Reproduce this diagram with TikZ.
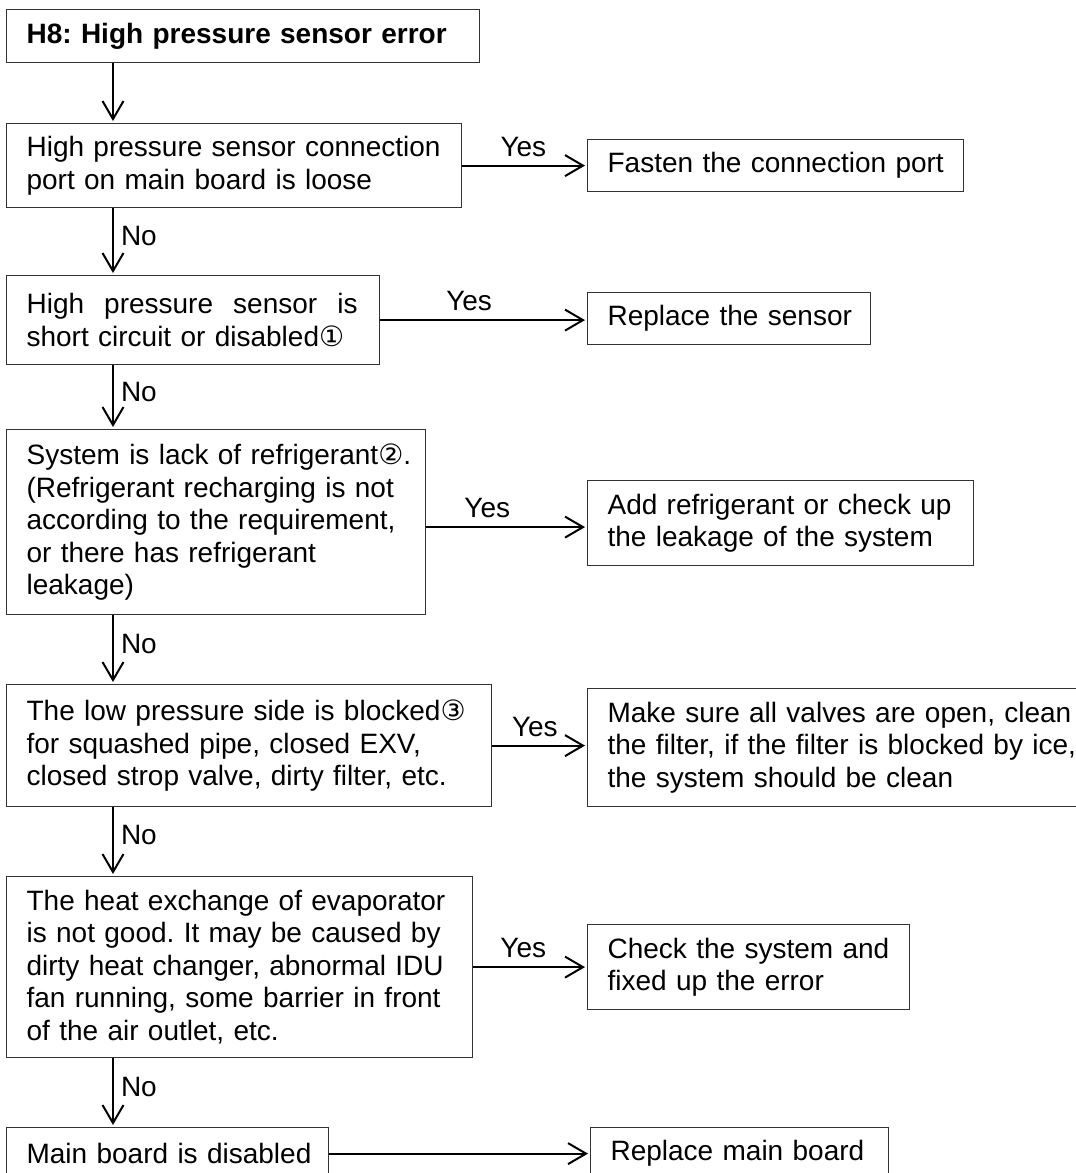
\documentclass[tikz,border=0pt]{standalone}
\usepackage{fontspec}
\setmainfont{Liberation Sans}
\newfontfamily\circfont{DejaVu Sans}
\usetikzlibrary{arrows.meta}
\newcommand\circnum[1]{{\circfont #1}}
% one unbreakable line of box text
\newcommand\rowtext[1]{\mbox{#1}}

\begin{document}
\begin{tikzpicture}[x=1pt, y=-1pt,
  txt/.style={font=\fontsize{28}{32.5}\selectfont\frenchspacing},
  box/.style={draw=black!80, line width=1.2pt, anchor=north west,
              inner xsep=20pt, inner ysep=0pt, align=left, txt},
  arr/.style={line width=2pt, -{Straight Barb[length=18pt, width=21pt]}, shorten >=2pt},
  nolab/.style={anchor=west, inner sep=0pt, xshift=7pt, txt},
  yeslab/.style={anchor=south, inner sep=0pt, yshift=8pt, txt}]

\useasboundingbox (0,0) rectangle (1076,1173);
\clip (0,0) rectangle (1076,1173);
\fill[white] (0,0) rectangle (1076,1173);

% question column
\node[box, minimum width=473pt, text width=433pt, minimum height=53pt] (b1) at (6,9)
  {\rowtext{\textbf{H8: High pressure sensor error}}};
\node[box, minimum width=455pt, text width=415pt, minimum height=84pt] (b2) at (6,123)
  {\rowtext{High pressure sensor connection}\\\rowtext{port on main board is loose}};
\node[box, minimum width=373pt, text width=333pt, minimum height=89pt] (b3) at (6,275)
  {\hbox to 331pt{High\hfill pressure\hfill sensor\hfill is}\\\rowtext{short circuit or disabled\circnum{①}}};
\node[box, minimum width=419pt, text width=379pt, minimum height=185pt] (b4) at (6,429)
  {\rowtext{System is lack of refrigerant\circnum{②}.}\\\rowtext{(Refrigerant recharging is not}\\\rowtext{according to the requirement,}\\\rowtext{or there has refrigerant}\\\rowtext{leakage)}};
\node[box, minimum width=485pt, text width=445pt, minimum height=122pt] (b5) at (6,684)
  {\rowtext{The low pressure side is blocked\circnum{③}}\\\rowtext{for squashed pipe, closed EXV,}\\\rowtext{closed strop valve, dirty filter, etc.}};
\node[box, minimum width=466pt, text width=426pt, minimum height=181pt] (b6) at (6,876)
  {\rowtext{The heat exchange of evaporator}\\\rowtext{is not good. It may be caused by}\\\rowtext{dirty heat changer, abnormal IDU}\\\rowtext{fan running, some barrier in front}\\\rowtext{of the air outlet, etc.}};
\node[box, minimum width=322pt, text width=282pt, minimum height=52pt] (b7) at (6,1127)
  {\rowtext{Main board is disabled}};

% action column
\node[box, minimum width=376pt, text width=336pt, minimum height=52pt] (r1) at (587,139)
  {\rowtext{Fasten the connection port}};
\node[box, minimum width=283pt, text width=243pt, minimum height=52pt] (r2) at (587,292)
  {\rowtext{Replace the sensor}};
\node[box, minimum width=386pt, text width=346pt, minimum height=85pt] (r3) at (587,480)
  {\rowtext{Add refrigerant or check up}\\\rowtext{the leakage of the system}};
\node[box, minimum width=500pt, text width=460pt, minimum height=118pt] (r4) at (587,688)
  {\rowtext{Make sure all valves are open, clean}\\\rowtext{the filter, if the filter is blocked by ice,}\\\rowtext{the system should be clean}};
\node[box, minimum width=322pt, text width=282pt, minimum height=85pt] (r5) at (587,924)
  {\rowtext{Check the system and}\\\rowtext{fixed up the error}};
\node[box, minimum width=298pt, text width=258pt, minimum height=52pt] (r6) at (590,1127)
  {\rowtext{Replace main board}};

% "No" branches
\draw[arr] ([xshift=107pt]b1.south west) -- ([xshift=107pt]b2.north west);
\draw[arr] ([xshift=107pt]b2.south west) -- node[nolab, pos=0.42] {No} ([xshift=107pt]b3.north west);
\draw[arr] ([xshift=107pt]b3.south west) -- node[nolab, pos=0.42] {No} ([xshift=107pt]b4.north west);
\draw[arr] ([xshift=107pt]b4.south west) -- node[nolab, pos=0.42] {No} ([xshift=107pt]b5.north west);
\draw[arr] ([xshift=107pt]b5.south west) -- node[nolab, pos=0.40] {No} ([xshift=107pt]b6.north west);
\draw[arr] ([xshift=107pt]b6.south west) -- node[nolab, pos=0.42] {No} ([xshift=107pt]b7.north west);

% "Yes" branches
\draw[arr] (b2.east) -- node[yeslab, pos=0.49] {Yes} (b2.east -| r1.west);
\draw[arr] (b3.east) -- node[yeslab, pos=0.43] {Yes} (b3.east -| r2.west);
\draw[arr] ([yshift=-5pt]b4.east) -- node[yeslab, pos=0.38] {Yes} ([yshift=-5pt]b4.east -| r3.west);
\draw[arr] (b5.east) -- node[yeslab, pos=0.45] {Yes} (b5.east -| r4.west);
\draw[arr] (b6.east) -- node[yeslab, pos=0.44] {Yes} (b6.east -| r5.west);
\draw[arr] (b7.east) -- (b7.east -| r6.west);
\end{tikzpicture}
\end{document}
